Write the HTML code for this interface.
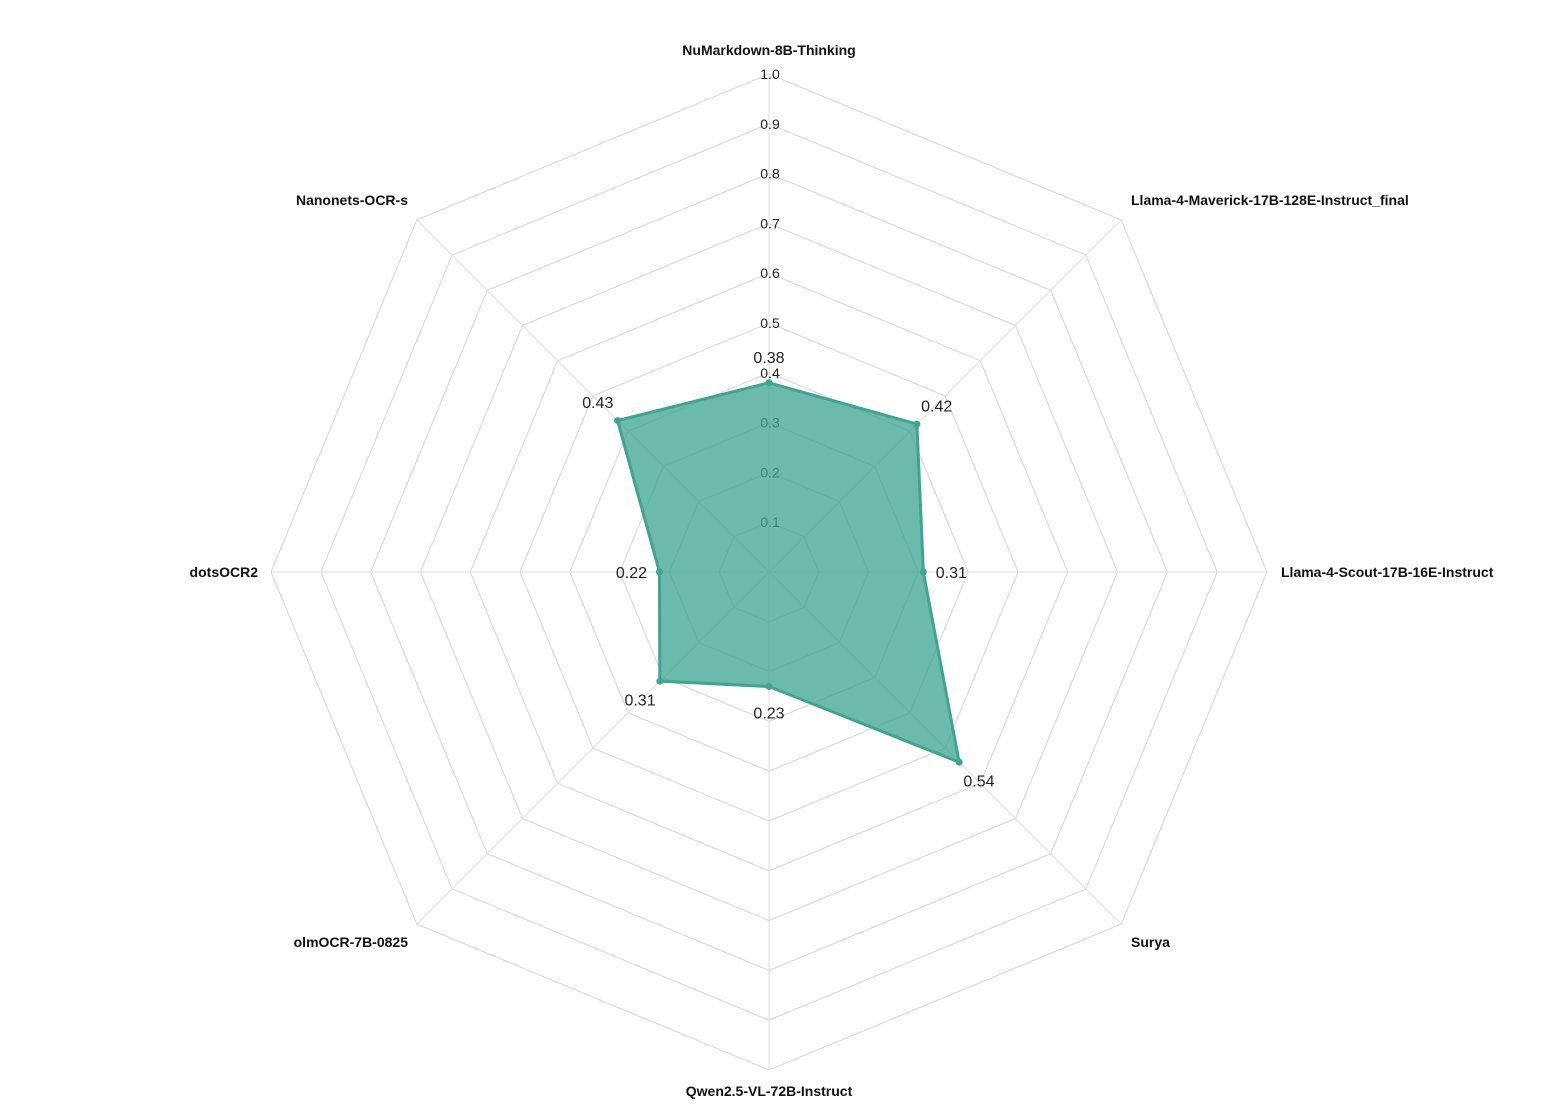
<!DOCTYPE html>
<html><head><meta charset="utf-8"><style>
html,body{margin:0;padding:0;background:#fff;}
svg{display:block;font-family:"Liberation Sans",sans-serif;}
</style></head><body>
<svg id="chart" width="1556" height="1114"></svg>
<script>
const categories=["NuMarkdown-8B-Thinking","Llama-4-Maverick-17B-128E-Instruct_final","Llama-4-Scout-17B-16E-Instruct","Surya","Qwen2.5-VL-72B-Instruct","olmOCR-7B-0825","dotsOCR2","Nanonets-OCR-s"];
const values=[0.38,0.42,0.31,0.54,0.23,0.31,0.22,0.43];
const valueLabels=["0.38","0.42","0.31","0.54","0.23","0.31","0.22","0.43"];
const ticks=[0.1,0.2,0.3,0.4,0.5,0.6,0.7,0.8,0.9,1.0];
const tickLabels=["0.1","0.2","0.3","0.4","0.5","0.6","0.7","0.8","0.9","1.0"];

const NS="http://www.w3.org/2000/svg";
const svg=document.getElementById('chart');
const cx=769,cy=572,R=498;
const n=categories.length;
function ang(i){return i*2*Math.PI/n;}
function pt(i,v){const a=ang(i);return [cx+Math.sin(a)*v*R,cy-Math.cos(a)*v*R];}
function mk(tag,attrs){const e=document.createElementNS(NS,tag);for(const k in attrs)e.setAttribute(k,attrs[k]);svg.appendChild(e);return e;}

ticks.forEach((t,j)=>{
  const p=categories.map((c,i)=>pt(i,t).join(',')).join(' ');
  const g=mk('polygon',{points:p,fill:'none',stroke:'#d6d6d6','stroke-width':1});
  
  
});
categories.forEach((c,i)=>{
  const [x,y]=pt(i,1);
  const l=mk('line',{x1:cx,y1:cy,x2:x,y2:y,stroke:'#dedede','stroke-width':1});
  
  
});
ticks.forEach((t,j)=>{
  const e=mk('text',{x:cx+1,y:cy-t*R+5,'text-anchor':'middle','font-size':14,fill:'#222'});
  e.textContent=tickLabels[j];
  
  
});
const poly=values.map((v,i)=>pt(i,v).join(',')).join(' ');
const area=mk('polygon',{points:poly,fill:'#3ea593','fill-opacity':0.77,stroke:'#3ea593','stroke-width':3,'stroke-linejoin':'round'});


values.forEach((v,i)=>{
  const [x,y]=pt(i,v);
  const c=mk('circle',{cx:x,cy:y,r:3.5,fill:'#3ea593'});
  
  
  const a=ang(i);
  const lx=x+Math.sin(a)*28,ly=y-Math.cos(a)*26;
  const t=mk('text',{x:lx,y:ly+6,'text-anchor':'middle','font-size':16,fill:'#222'});
  t.textContent=valueLabels[i];
  
  
});
categories.forEach((c,i)=>{
  const [x,y]=pt(i,1);
  const s=Math.sin(ang(i)),co=Math.cos(ang(i));
  let anchor='middle',lx=x,ly=y+5;
  if(s>0.1)anchor='start';
  else if(s<-0.1)anchor='end';
  if(Math.abs(s)<0.1){ly=co>0?y-19:y+26;}
  if(s<-0.9)lx=cx-511;
  if(s>0.9)lx=cx+512;
  if(s<-0.1&&s>-0.9)lx=408;
  if(s>0.1&&s<0.9)lx=1131;
  if(Math.abs(s)>0.1&&Math.abs(s)<0.9){ly=co>0?205:947;}
  const t=mk('text',{x:lx,y:ly,'text-anchor':anchor,'font-size':14,'font-weight':'bold',fill:'#111'});
  t.textContent=c;
  
  
});
</script>
</body></html>
